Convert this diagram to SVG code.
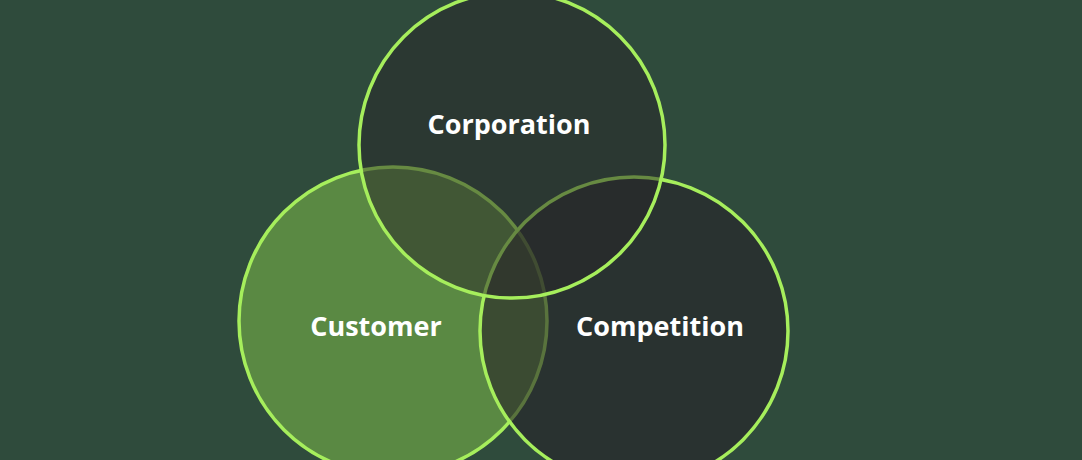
<svg xmlns="http://www.w3.org/2000/svg" width="1082" height="460" viewBox="0 0 1082 460">
  <style>
    .ring { stroke: #a6ee5c; stroke-width: 3.5; }
    .label { font-family: "Open Sans", "Liberation Sans", sans-serif; font-weight: 700; font-size: 27px; fill: #ffffff; text-anchor: middle; }
  </style>
  <rect width="1082" height="460" fill="#2f4b3c"/>
  <g id="customer">
    <circle class="ring" cx="393" cy="321" r="154" fill="#5a8943"/>
    <text class="label" x="376" y="336">Customer</text>
  </g>
  <g id="competition">
    <circle class="ring" cx="634" cy="331" r="154" fill="#272228" fill-opacity="0.6"/>
    <text class="label" x="660" y="336">Competition</text>
  </g>
  <g id="corporation">
    <circle class="ring" cx="512" cy="145" r="153" fill="#282628" fill-opacity="0.5"/>
    <text class="label" x="509" y="134">Corporation</text>
  </g>
  <g id="connectors"></g>
</svg>
